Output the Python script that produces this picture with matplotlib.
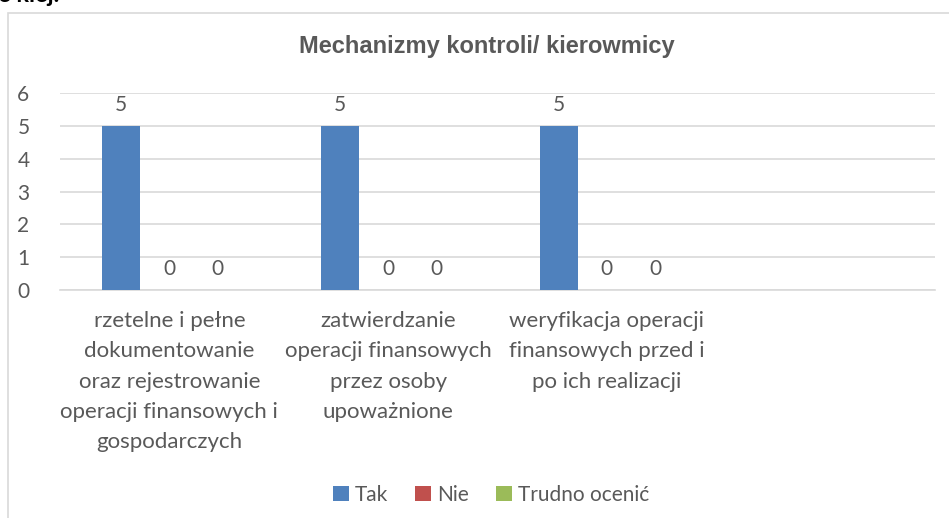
import matplotlib.pyplot as plt
from matplotlib.patches import Rectangle, Patch

plt.rcParams['font.family'] = ['Lato', 'DejaVu Sans']

categories = ['rzetelne i pełne\ndokumentowanie\noraz rejestrowanie\noperacji finansowych i\ngospodarczych',
              'zatwierdzanie\noperacji finansowych\nprzez osoby\nupoważnione',
              'weryfikacja operacji\nfinansowych przed i\npo ich realizacji',
              '']
series = ['Tak', 'Nie', 'Trudno ocenić']
tak = [5, 5, 5]
nie = [0, 0, 0]
trudno = [0, 0, 0]
colors = ['#4F81BD', '#C0504D', '#9BBB59']
txt = '#595959'

W, H = 949, 518
fig = plt.figure(figsize=(W / 100, H / 100), dpi=100)

# chart frame (cropped on right and bottom)
fig.patches.append(Rectangle((8 / W, -0.1), 1.2, 1.1 - 13 / H, transform=fig.transFigure,
                             fill=False, edgecolor='#d9d9d9', linewidth=1.2, clip_on=False))
fig.text(-2 / W, 1 - 6 / H, 'e kiej.', fontsize=17, fontweight='bold', color='black',
         ha='left', va='bottom')

ax = fig.add_axes([60 / W, 1 - 290 / H, 875 / W, 197 / H])
offsets = [-0.22, 0, 0.22]
for k, vals in enumerate([tak, nie, trudno]):
    xs = [i + offsets[k] for i in range(len(vals))]
    bars = ax.bar(xs, vals, width=0.174, color=colors[k], zorder=3)
    for x, v in zip(xs, vals):
        ax.annotate(str(v), (x, v), xytext=(0, 15), textcoords='offset points',
                    ha='center', va='center', fontsize=15, color=txt, annotation_clip=False)

ax.set_xlim(-0.5, len(categories) - 0.5)
ax.set_ylim(0, 6)
ax.set_yticks(range(0, 7))
ax.set_xticks(range(len(categories)))
ax.set_xticklabels(categories, fontsize=16, color=txt, linespacing=1.65)
ax.tick_params(axis='x', length=0, pad=15)
ax.tick_params(axis='y', length=0, pad=22, labelsize=15, labelcolor=txt)
ax.grid(axis='y', color='#d9d9d9', linewidth=1.2, zorder=0)
for s in ['top', 'right', 'left']:
    ax.spines[s].set_visible(False)
ax.spines['bottom'].set_color('#d9d9d9')
ax.spines['bottom'].set_linewidth(1.2)

fig.text(487 / W, 1 - 47 / H, 'Mechanizmy kontroli/ kierowmicy', family='Liberation Sans',
         fontsize=17, fontweight='bold', color=txt, ha='center', va='center')

handles = [Patch(facecolor=c, edgecolor='none') for c in colors]
fig.legend(handles, series, loc='center', bbox_to_anchor=(491 / W, 1 - 495 / H), ncol=3,
           frameon=False, fontsize=15, labelcolor=txt, handlelength=0.75, handleheight=0.75,
           handletextpad=0.3, columnspacing=1.3)

fig.savefig('out.png', dpi=100)
